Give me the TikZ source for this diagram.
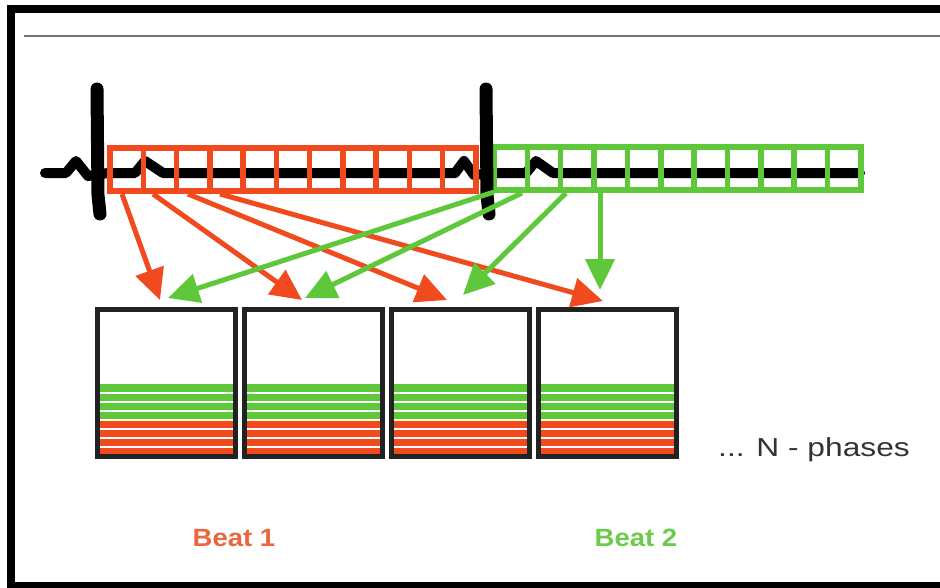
\documentclass[tikz,border=0pt]{standalone}
\usepackage{fontspec}
\setmainfont{Liberation Sans}
\usetikzlibrary{arrows.meta}
\definecolor{beatred}{HTML}{F04A1E}
\definecolor{beatgreen}{HTML}{5EC73A}
\definecolor{labred}{HTML}{E8673C}
\definecolor{labgreen}{HTML}{6CCB4A}
\definecolor{boxline}{HTML}{222222}
\tikzset{
  ecg/.style={line width=10pt, line cap=round, line join=round, black},
  spike/.style={line width=13pt, line cap=round, line join=round, black},
  gridline/.style={line width=5.5pt},
  phasearrow/.style={line width=5pt, -{Triangle[length=31pt,width=29pt]}},
  phasebox/.style={draw=boxline, line width=5pt, minimum width=138pt, minimum height=147pt, inner sep=0pt},
  beatlabel/.style={font=\bfseries\fontsize{25}{30}\selectfont\addfontfeature{FakeStretch=1.1}, inner sep=0pt, anchor=base},
}
\begin{document}
\begin{tikzpicture}[x=1pt,y=-1pt]
\useasboundingbox (0,0) rectangle (940,587);
\clip (0,0) rectangle (940,587);
\fill[white] (0,0) rectangle (940,587);
% frame (open on the right) and header rule
\draw[line width=8pt, black] (940,9) -- (11,9) -- (11,586) -- (940,586);
\draw[line width=2.5pt, black!55] (24,36) -- (940,36);

% ECG trace (baseline with P and T waves)
\draw[ecg] (45,173) -- (66,173) -- (76,161) -- (88,176) -- (108,173)
  -- (135,173) -- (145,161) -- (163,173) -- (455,173) -- (464,161)
  -- (474,175) -- (492,173) -- (526,173) -- (536,161) -- (553,173) -- (860,173);

% red sampling window, 11 cells
\foreach \i in {1,...,10}
  \draw[beatred, gridline] ({110+\i*33.27},148) -- ({110+\i*33.27},191);
\draw[beatred, gridline] (110,148) rectangle (476,191);
% green sampling window, 11 cells
\foreach \i in {1,...,10}
  \draw[beatgreen, gridline] ({494+\i*33.36},147) -- ({494+\i*33.36},190);
\draw[beatgreen, gridline] (494,147) rectangle (861,190);

% R spikes
\draw[spike] (97,89) -- (98,195) -- (100,214);
\draw[spike] (486,89) -- (487,195) -- (489,214);

% phase boxes with stacked beat stripes
\foreach \k/\x in {1/166, 2/313, 3/460.5, 4/607.5} {
  \fill[beatgreen] ({\x-66.5},384) rectangle ({\x+66.5},420);
  \fill[beatred] ({\x-66.5},420) rectangle ({\x+66.5},456);
  \foreach \y in {393,402,411,429,438,447}
    \draw[white, line width=1.8pt] ({\x-66.5},\y) -- ({\x+66.5},\y);
  \draw[white!85!yellow, line width=1.2pt] ({\x-66.5},420) -- ({\x+66.5},420);
  \node[phasebox] (box\k) at (\x,383) {};
}

% source points on the windows and targets above the boxes
\coordinate (rs1) at (122,194);
\coordinate (rs2) at (153,194);
\coordinate (rs3) at (188,194);
\coordinate (rs4) at (220,194);
\coordinate (gs1) at (494,192);
\coordinate (gs2) at (522,193);
\coordinate (gs3) at (566,193);
\coordinate (gs4) at (600,193);
\coordinate (rt1) at (160,300);
\coordinate (rt2) at (302,300);
\coordinate (rt3) at (447,300);
\coordinate (rt4) at (603,301);
\coordinate (gt1) at (168,298);
\coordinate (gt2) at (305,298);
\coordinate (gt3) at (463,295);
\coordinate (gt4) at (600,290);

\foreach \i in {1,...,4}
  \draw[phasearrow, beatred] (rs\i) -- (rt\i);
\foreach \i in {1,...,4}
  \draw[phasearrow, beatgreen] (gs\i) -- (gt\i);

% labels
\node[font=\fontsize{26}{30}\selectfont\addfontfeature{FakeStretch=1.22}, text=black!80, anchor=base west, inner sep=0pt] (nph) at (718,456) {... N - phases};
\node[beatlabel, text=labred] (beat1) at (234,546) {Beat 1};
\node[beatlabel, text=labgreen] (beat2) at (636,546) {Beat 2};
\end{tikzpicture}
\end{document}
